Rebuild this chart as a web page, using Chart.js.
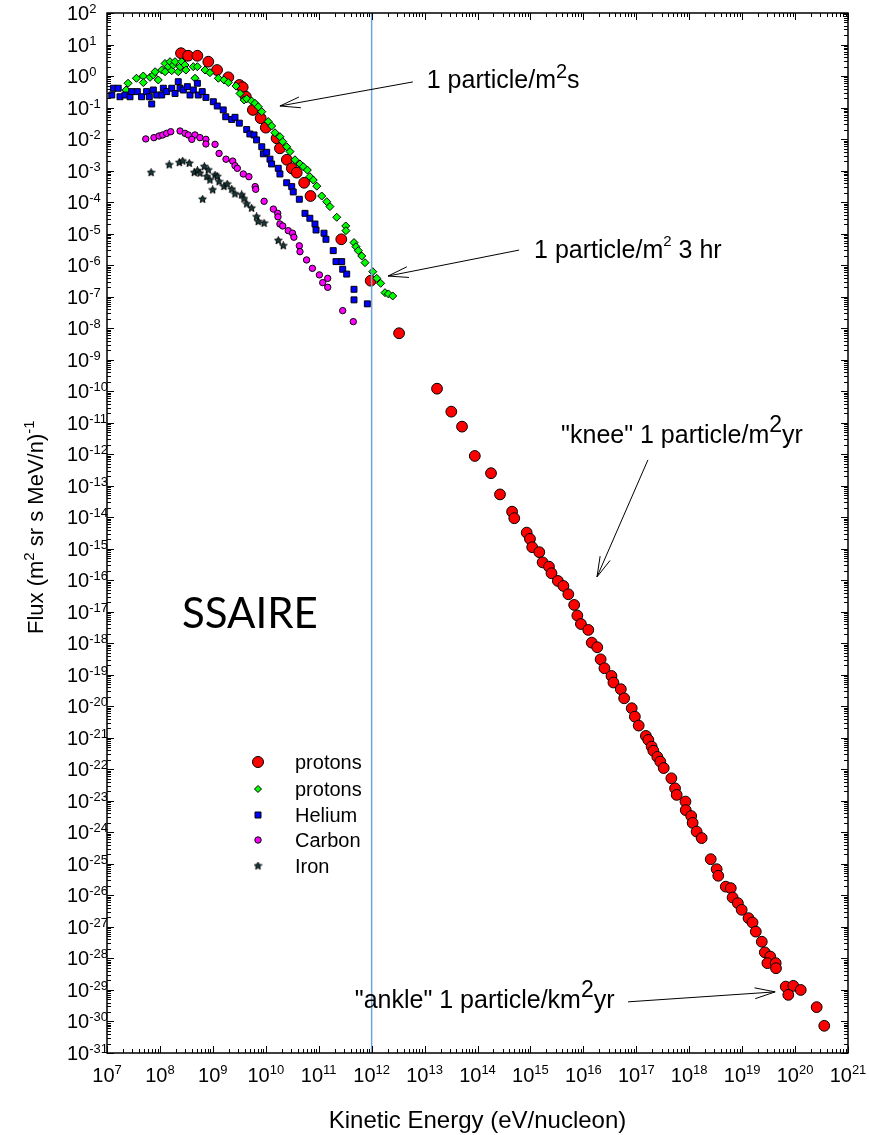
<!DOCTYPE html>
<html>
<head>
    <title>Cosmic ray spectrum</title>
    <script src="https://cdn.jsdelivr.net/npm/chart.js"></script>
    <style>
        body { margin: 0; background: #fff; }
        canvas { display: block; }
    </style>
</head>
<body>
    <canvas id="chart-flux" width="869" height="1135"></canvas>

    <script>
        // protons (large red circles) - energy in eV/nucleon, flux in (m2 sr s MeV/n)^-1
        const protonE = [2.5e8, 3.4e8, 5.1e8, 8.2e8, 1.2e9, 1.96e9, 3.16e9, 3.66e9, 4.2e9, 5.7e9,
            8.0e9, 1.0e10, 1.6e10, 1.85e10, 2.5e10, 3.1e10, 3.84e10, 5.3e10, 7.0e10, 2.67e11,
            9.6e11, 3.3e12, 1.72e13, 3.2e13, 5.1e13, 8.9e13, 1.8e14, 2.66e14, 4.5e14, 4.95e14,
            8.5e14, 9.8e14, 1.08e15, 1.47e15, 1.7e15, 2.24e15, 2.5e15, 3.3e15, 4.2e15, 5.2e15,
            6.7e15, 7.7e15, 9.0e15, 1.24e16, 1.44e16, 1.83e16, 2.12e16, 2.5e16, 3.4e16, 3.7e16,
            5.1e16, 5.9e16, 8.2e16, 9.4e16, 1.11e17, 1.52e17, 1.69e17, 1.95e17, 2.1e17, 2.5e17,
            2.84e17, 3.3e17, 4.6e17, 5.4e17, 5.8e17, 8.5e17, 8.6e17, 1.09e18, 1.16e18, 1.38e18,
            1.72e18, 2.55e18, 3.3e18, 3.54e18, 4.9e18, 6.1e18, 6.6e18, 8.3e18, 9.8e18, 1.32e19,
            1.57e19, 1.81e19, 2.35e19, 2.68e19, 3.4e19, 3.0e19, 4.3e19, 4.36e19, 6.65e19, 9.25e19,
            7.45e19, 1.28e20, 2.56e20, 3.56e20];
        const protonFlux = [5.3, 4.4, 4.4, 2.85, 1.55, 0.91, 0.52, 0.44, 0.22, 0.084,
            0.046, 0.023, 0.0106, 5.1e-3, 2.2e-3, 1.18e-3, 8.6e-4, 4.1e-4, 1.56e-4, 6.6e-6,
            3.2e-7, 6.9e-9, 1.2e-10, 2.24e-11, 7.5e-12, 8.8e-13, 2.5e-13, 5.3e-14, 1.5e-14, 9.3e-15,
            3.25e-15, 2.05e-15, 1.12e-15, 7.8e-16, 3.7e-16, 2.7e-16, 1.67e-16, 9.5e-17, 6.6e-17, 3.6e-17,
            1.65e-17, 7.6e-18, 4.1e-18, 2.66e-18, 1.05e-18, 7.5e-19, 3.1e-19, 1.62e-19, 9.2e-20, 5.7e-20,
            3.5e-20, 1.8e-20, 8.7e-21, 4.7e-21, 2.45e-21, 1.15e-21, 8.6e-22, 5.3e-22, 3.9e-22, 2.5e-22,
            1.77e-22, 1.1e-22, 5.2e-23, 2.5e-23, 1.55e-23, 9.5e-24, 5.1e-24, 3.3e-24, 2.0e-24, 1.06e-24,
            6.6e-25, 1.41e-25, 6.8e-26, 4.2e-26, 1.9e-26, 1.7e-26, 8.6e-27, 5.7e-27, 3.5e-27, 1.9e-27,
            1.38e-27, 7.1e-28, 3.4e-28, 1.56e-28, 1.15e-28, 7.1e-29, 7.1e-29, 4.9e-29, 1.28e-29, 1.35e-29,
            7.0e-30, 1.0e-29, 2.85e-30, 7.3e-31];

        // protons (green diamonds)
        const protonLowE = [2.5e7, 2.3e7, 3.6e7, 4.85e7, 4.85e7, 6.5e7, 7.5e7, 8.1e7, 9.3e7, 1.08e8,
            1.25e8, 1.25e8, 1.44e8, 1.55e8, 1.67e8, 1.79e8, 1.93e8, 2.22e8, 2.4e8, 2.58e8,
            2.98e8, 3.1e8, 4.27e8, 5.1e8, 4.6e8, 7.1e8, 8.8e8, 1.27e9, 1.62e9, 1.96e9,
            2.74e9, 3.26e9, 3.9e9, 4.36e9, 5.4e9, 6.25e9, 7.2e9, 8.4e9, 1.11e10, 1.29e10,
            1.49e10, 1.85e10, 2.09e10, 2.48e10, 2.87e10, 3.56e10, 4.43e10, 5.1e10, 6.1e10, 6.8e10,
            7.9e10, 9.2e10, 1.14e11, 1.42e11, 1.63e11, 2.19e11, 3.24e11, 3.27e11, 4.64e11, 5.06e11,
            5.6e11, 6.5e11, 7.5e11, 1.05e12, 1.25e12, 1.48e12, 1.79e12, 2.07e12, 2.5e12];
        const protonLowFlux = [0.59, 0.36, 0.85, 1.0, 0.62, 0.91, 1.08, 1.37, 0.75, 1.55,
            2.5, 1.37, 1.98, 2.85, 1.48, 2.24, 2.85, 1.37, 1.98, 2.85,
            2.24, 1.55, 1.98, 1.98, 0.85, 1.55, 1.28, 0.85, 0.75, 0.62,
            0.48, 0.28, 0.174, 0.19, 0.16, 0.136, 0.106, 0.074, 0.036, 0.026,
            0.0159, 0.0119, 8.3e-3, 5.7e-3, 4.0e-3, 2.2e-3, 1.62e-3, 1.33e-3, 1.04e-3, 6.4e-4,
            5.0e-4, 3.2e-4, 1.56e-4, 1.03e-4, 7.2e-5, 3.3e-5, 1.75e-5, 1.24e-5, 5.2e-6, 3.85e-6,
            2.88e-6, 1.95e-6, 1.2e-6, 6.2e-7, 3.8e-7, 2.65e-7, 1.34e-7, 1.22e-7, 1.05e-7];

        // Helium (blue squares)
        const heliumE = [1.32e7, 1.63e7, 1.23e7, 1.76e7, 2.19e7, 2.72e7, 2.93e7, 3.74e7, 4.5e7, 5.6e7,
            6.3e7, 7.0e7, 7.5e7, 8.7e7, 1.08e8, 1.16e8, 1.34e8, 1.67e8, 1.93e8, 2.22e8,
            2.4e8, 2.77e8, 3.3e8, 3.7e8, 4.27e8, 5.1e8, 5.3e8, 6.3e8, 7.4e8, 1.02e9,
            1.21e9, 1.57e9, 1.75e9, 2.27e9, 2.62e9, 3.16e9, 4.36e9, 5.0e9, 6.0e9, 6.7e9,
            8.4e9, 9.0e9, 1.04e10, 1.2e10, 1.29e10, 1.72e10, 1.85e10, 2.48e10, 3.09e10, 3.3e10,
            4.3e10, 5.5e10, 6.8e10, 8.5e10, 8.9e10, 1.26e11, 1.37e11, 1.88e11, 2.12e11, 2.72e11,
            2.84e11, 3.38e11, 4.64e11, 4.64e11, 8.3e11];
        const heliumFlux = [0.41, 0.41, 0.25, 0.22, 0.25, 0.22, 0.32, 0.32, 0.22, 0.32,
            0.22, 0.13, 0.36, 0.25, 0.25, 0.41, 0.32, 0.41, 0.28, 0.66,
            0.41, 0.36, 0.46, 0.25, 0.36, 0.59, 0.25, 0.32, 0.21, 0.153,
            0.112, 0.084, 0.051, 0.042, 0.049, 0.032, 0.020, 0.0145, 0.0135, 9.4e-3,
            5.7e-3, 3.4e-3, 3.8e-3, 2.3e-3, 1.62e-3, 1.18e-3, 7.8e-4, 4.1e-4, 3.1e-4, 2.1e-4,
            1.23e-4, 4.4e-5, 3.07e-5, 2.02e-5, 1.3e-5, 1.03e-5, 6.6e-6, 2.88e-6, 1.29e-6, 1.29e-6,
            7.4e-7, 5.2e-7, 1.71e-7, 7.9e-8, 5.9e-8];

        // Carbon (magenta circles)
        const carbonE = [5.4e7, 7.7e7, 9.6e7, 1.13e8, 1.34e8, 1.6e8, 2.4e8, 2.98e8, 3.44e8, 4.6e8,
            4.0e8, 5.7e8, 7.4e8, 7.4e8, 1.1e9, 1.31e9, 1.77e9, 2.37e9, 2.62e9, 2.9e9,
            3.76e9, 4.8e9, 6.3e9, 6.45e9, 9.3e9, 1.39e10, 1.68e10, 1.7e10, 1.85e10, 2.09e10,
            2.66e10, 3.2e10, 3.4e10, 4.3e10, 4.43e10, 5.9e10, 7.6e10, 1.03e11, 1.48e11, 1.19e11,
            1.48e11, 2.84e11, 4.5e11];
        const carbonFlux = [0.0101, 0.0111, 0.0125, 0.0135, 0.0152, 0.0171, 0.018, 0.0152, 0.0135, 0.0135,
            9.8e-3, 0.0111, 9.8e-3, 7.0e-3, 6.8e-3, 3.5e-3, 2.3e-3, 2.0e-3, 1.43e-3, 1.18e-3,
            7.8e-4, 6.4e-4, 3.1e-4, 2.55e-4, 1.06e-4, 6.0e-5, 4.4e-5, 3.4e-5, 2.02e-5, 1.75e-5,
            1.24e-5, 1.03e-5, 7.7e-6, 4.1e-6, 2.67e-6, 1.46e-6, 7.9e-7, 4.9e-7, 3.8e-7, 2.78e-7,
            1.98e-7, 3.6e-8, 1.61e-8];

        // Iron (black stars)
        const ironE = [6.8e7, 1.5e8, 2.32e8, 2.69e8, 3.59e8, 4.46e8, 5.1e8, 5.7e8, 6.9e8, 8.2e8,
            7.7e8, 8.8e8, 1.1e9, 1.21e9, 1.31e9, 9.9e8, 6.4e8, 1.62e9, 1.87e9, 2.27e9,
            2.62e9, 3.5e9, 3.87e9, 4.36e9, 5.4e9, 6.7e9, 7.2e9, 9.3e9, 1.72e10, 2.14e10];
        const ironFlux = [8.6e-4, 1.51e-3, 1.78e-3, 2.0e-3, 1.7e-3, 8.6e-4, 9.9e-4, 8.2e-4, 1.33e-3, 1.04e-3,
            6.4e-4, 5.0e-4, 7.2e-4, 6.4e-4, 4.4e-4, 2.42e-4, 1.23e-4, 3.1e-4, 3.7e-4, 2.55e-4,
            1.81e-4, 1.68e-4, 1.26e-4, 8.7e-5, 6.4e-5, 3.4e-5, 2.39e-5, 2.13e-5, 6.0e-6, 4.1e-6];

        // vertical marker at 1 TeV
        const markerE = 1e12;

        // axis decades
        const xDecades = [7, 8, 9, 10, 11, 12, 13, 14, 15, 16, 17, 18, 19, 20, 21];
        const yDecades = [2, 1, 0, -1, -2, -3, -4, -5, -6, -7, -8, -9, -10, -11, -12, -13, -14, -15, -16,
            -17, -18, -19, -20, -21, -22, -23, -24, -25, -26, -27, -28, -29, -30, -31];

        const legendLabels = ["protons", "protons", "Helium", "Carbon", "Iron"];

        // annotations: [tail E, tail flux, tip E, tip flux, text E, text flux, text runs]
        const notes = [
            [6.0e12, 0.65, 1.85e10, 0.112, 1.1e13, 0.42,
                [["1 particle/m", 25, 0], ["2", 20, 10], ["s", 25, 0]]],
            [6.1e14, 3.0e-6, 2.04e12, 4.5e-7, 1.17e15, 1.7e-6,
                [["1 particle/m", 25, 0], ["2", 15, 12], [" 3 hr", 25, 0]]],
            [1.66e17, 6.6e-13, 1.81e16, 1.28e-16, 3.8e15, 2.3e-12,
                [["\"knee\" 1 particle/m", 25, 0], ["2", 23, 11], ["yr", 25, 0]]],
            [7.0e16, 4.2e-30, 4.2e19, 8.7e-30, 4.8e11, 2.7e-30,
                [["\"ankle\" 1 particle/km", 25, 0], ["2", 23, 11], ["yr", 25, 0]]]
        ];

        const FONT = '"Liberation Sans", Arial, sans-serif';

        function toPoints(xs, ys) {
            return xs.map((x, i) => ({ x: x, y: ys[i] }));
        }

        function makeStar(size) {
            const c = document.createElement("canvas");
            c.width = size;
            c.height = size;
            const g = c.getContext("2d");
            const r = size / 2 - 0.5, ri = r * 0.45, cx = size / 2, cy = size / 2;
            g.beginPath();
            for (let i = 0; i < 10; i++) {
                const a = -Math.PI / 2 + i * Math.PI / 5;
                const rr = i % 2 ? ri : r;
                g.lineTo(cx + rr * Math.cos(a), cy + rr * Math.sin(a));
            }
            g.closePath();
            g.fillStyle = "#163c3c";
            g.fill();
            g.strokeStyle = "#000";
            g.lineWidth = 1;
            g.stroke();
            return c;
        }
        const starImg = makeStar(9);

        // text with superscripts: runs = [text, size, rise]
        function drawRuns(ctx, runs, x, y, align) {
            let total = 0;
            const widths = runs.map(r => {
                ctx.font = r[1] + "px " + FONT;
                const w = ctx.measureText(r[0]).width;
                total += w;
                return w;
            });
            let cx = align === "center" ? x - total / 2 : x;
            ctx.textAlign = "left";
            ctx.textBaseline = "alphabetic";
            runs.forEach((r, i) => {
                ctx.font = r[1] + "px " + FONT;
                ctx.fillText(r[0], cx, y - r[2]);
                cx += widths[i];
            });
        }

        function drawMarker(ctx, kind, x, y) {
            ctx.save();
            ctx.strokeStyle = "#000";
            ctx.lineWidth = 1;
            ctx.beginPath();
            if (kind === 0) {
                ctx.fillStyle = "#ff0000";
                ctx.arc(x, y, 5.5, 0, Math.PI * 2);
            } else if (kind === 1) {
                ctx.fillStyle = "#00ff00";
                ctx.moveTo(x, y - 3.5); ctx.lineTo(x + 3.5, y); ctx.lineTo(x, y + 3.5); ctx.lineTo(x - 3.5, y);
                ctx.closePath();
            } else if (kind === 2) {
                ctx.fillStyle = "#0000ff";
                ctx.rect(x - 3, y - 3, 6, 6);
            } else if (kind === 3) {
                ctx.fillStyle = "#ff00ff";
                ctx.arc(x, y, 3.2, 0, Math.PI * 2);
            } else {
                ctx.restore();
                ctx.drawImage(starImg, x - 4.5, y - 4.5);
                return;
            }
            ctx.fill();
            ctx.stroke();
            ctx.restore();
        }

        function arrow(ctx, x1, y1, x2, y2) {
            const ang = Math.atan2(y1 - y2, x1 - x2);
            const len = 21, spread = 15 * Math.PI / 180;
            ctx.beginPath();
            ctx.moveTo(x1, y1);
            ctx.lineTo(x2, y2);
            ctx.moveTo(x2 + len * Math.cos(ang + spread), y2 + len * Math.sin(ang + spread));
            ctx.lineTo(x2, y2);
            ctx.lineTo(x2 + len * Math.cos(ang - spread), y2 + len * Math.sin(ang - spread));
            ctx.stroke();
        }

        const decor = {
            id: "decor",
            afterDraw(chart) {
                const ctx = chart.ctx;
                const xs = chart.scales.x, ys = chart.scales.y;
                const a = chart.chartArea;
                ctx.save();
                ctx.fillStyle = "#000";
                ctx.strokeStyle = "#000";

                // frame
                ctx.lineWidth = 1.5;
                ctx.strokeRect(a.left, a.top, a.right - a.left, a.bottom - a.top);

                // inward ticks, all four sides
                ctx.lineWidth = 1;
                ctx.beginPath();
                xDecades.forEach(n => {
                    for (let k = 1; k < 10; k++) {
                        if (n === 21 && k > 1) break;
                        const px = Math.round(xs.getPixelForValue(k * Math.pow(10, n))) + 0.5;
                        const len = k === 1 ? 7 : 4;
                        ctx.moveTo(px, a.bottom); ctx.lineTo(px, a.bottom - len);
                        ctx.moveTo(px, a.top); ctx.lineTo(px, a.top + len);
                    }
                });
                yDecades.forEach(n => {
                    for (let k = 1; k < 10; k++) {
                        if (n === 2 && k > 1) break;
                        const py = Math.round(ys.getPixelForValue(k * Math.pow(10, n))) + 0.5;
                        const len = k === 1 ? 7 : 4;
                        ctx.moveTo(a.left, py); ctx.lineTo(a.left + len, py);
                        ctx.moveTo(a.right, py); ctx.lineTo(a.right - len, py);
                    }
                });
                ctx.stroke();

                // tick labels
                xDecades.forEach(n => {
                    const px = xs.getPixelForValue(Math.pow(10, n));
                    drawRuns(ctx, [["10", 20, 0], [String(n), 13, 8]], px, a.bottom + 29, "center");
                });
                yDecades.forEach(n => {
                    const py = ys.getPixelForValue(Math.pow(10, n));
                    drawRuns(ctx, [["10", 20, 0], [String(n), 13, 7]], a.left - 40, py + 7, "left");
                });

                // axis titles
                drawRuns(ctx, [["Kinetic Energy (eV/nucleon)", 24, 0]], (a.left + a.right) / 2, a.bottom + 75, "center");
                ctx.save();
                ctx.translate(43, 634);
                ctx.rotate(-Math.PI / 2);
                drawRuns(ctx, [["Flux (m", 22, 0], ["2", 15, 9], [" sr s MeV/n)", 22, 0], ["-1", 15, 9]], 0, 0, "left");
                ctx.restore();

                // annotations with arrows
                ctx.lineWidth = 1;
                notes.forEach(nt => {
                    arrow(ctx, xs.getPixelForValue(nt[0]), ys.getPixelForValue(nt[1]),
                        xs.getPixelForValue(nt[2]), ys.getPixelForValue(nt[3]));
                    drawRuns(ctx, nt[6], xs.getPixelForValue(nt[4]), ys.getPixelForValue(nt[5]), "left");
                });

                // big label
                ctx.font = '42px Lato, "Open Sans", sans-serif';
                ctx.textAlign = "left";
                ctx.textBaseline = "alphabetic";
                ctx.fillText("SSAIRE", a.left + 75, 628);

                // legend
                const rows = [762, 789, 815, 840, 866];
                legendLabels.forEach((lab, i) => {
                    drawMarker(ctx, i, a.left + 151, rows[i]);
                    ctx.fillStyle = "#000";
                    ctx.font = "20px " + FONT;
                    ctx.textBaseline = "middle";
                    ctx.fillText(lab, a.left + 188, rows[i] + 1);
                });
                ctx.restore();
            }
        };

        new Chart(document.getElementById("chart-flux"), {
            type: "scatter",
            data: {
                datasets: [
                    {
                        type: "line",
                        label: "1 TeV",
                        data: [{ x: markerE, y: 1e2 }, { x: markerE, y: 1e-31 }],
                        borderColor: "#6ea6da",
                        borderWidth: 1.5,
                        pointRadius: 0,
                        showLine: true,
                        order: 0
                    },
                    {
                        label: "Iron",
                        data: toPoints(ironE, ironFlux),
                        pointStyle: starImg,
                        order: 1
                    },
                    {
                        label: "Carbon",
                        data: toPoints(carbonE, carbonFlux),
                        pointStyle: "circle",
                        pointRadius: 3.2,
                        backgroundColor: "#ff00ff",
                        borderColor: "#000",
                        borderWidth: 1,
                        order: 2
                    },
                    {
                        label: "Helium",
                        data: toPoints(heliumE, heliumFlux),
                        pointStyle: "rect",
                        pointRadius: 4.2,
                        backgroundColor: "#0000ff",
                        borderColor: "#000",
                        borderWidth: 1,
                        order: 3
                    },
                    {
                        label: "protons",
                        data: toPoints(protonLowE, protonLowFlux),
                        pointStyle: "rectRot",
                        pointRadius: 4,
                        backgroundColor: "#00ff00",
                        borderColor: "#000",
                        borderWidth: 1,
                        order: 4
                    },
                    {
                        label: "protons",
                        data: toPoints(protonE, protonFlux),
                        pointStyle: "circle",
                        pointRadius: 5.4,
                        backgroundColor: "#ff0000",
                        borderColor: "#000",
                        borderWidth: 1,
                        order: 5
                    }
                ]
            },
            options: {
                responsive: false,
                animation: false,
                layout: { padding: { left: 107, right: 21, top: 13, bottom: 82 } },
                scales: {
                    x: { type: "logarithmic", min: 1e7, max: 1e21, display: false },
                    y: { type: "logarithmic", min: 1e-31, max: 1e2, display: false }
                },
                plugins: {
                    legend: { display: false },
                    tooltip: { enabled: false }
                }
            },
            plugins: [decor]
        });
    </script>
</body>
</html>
